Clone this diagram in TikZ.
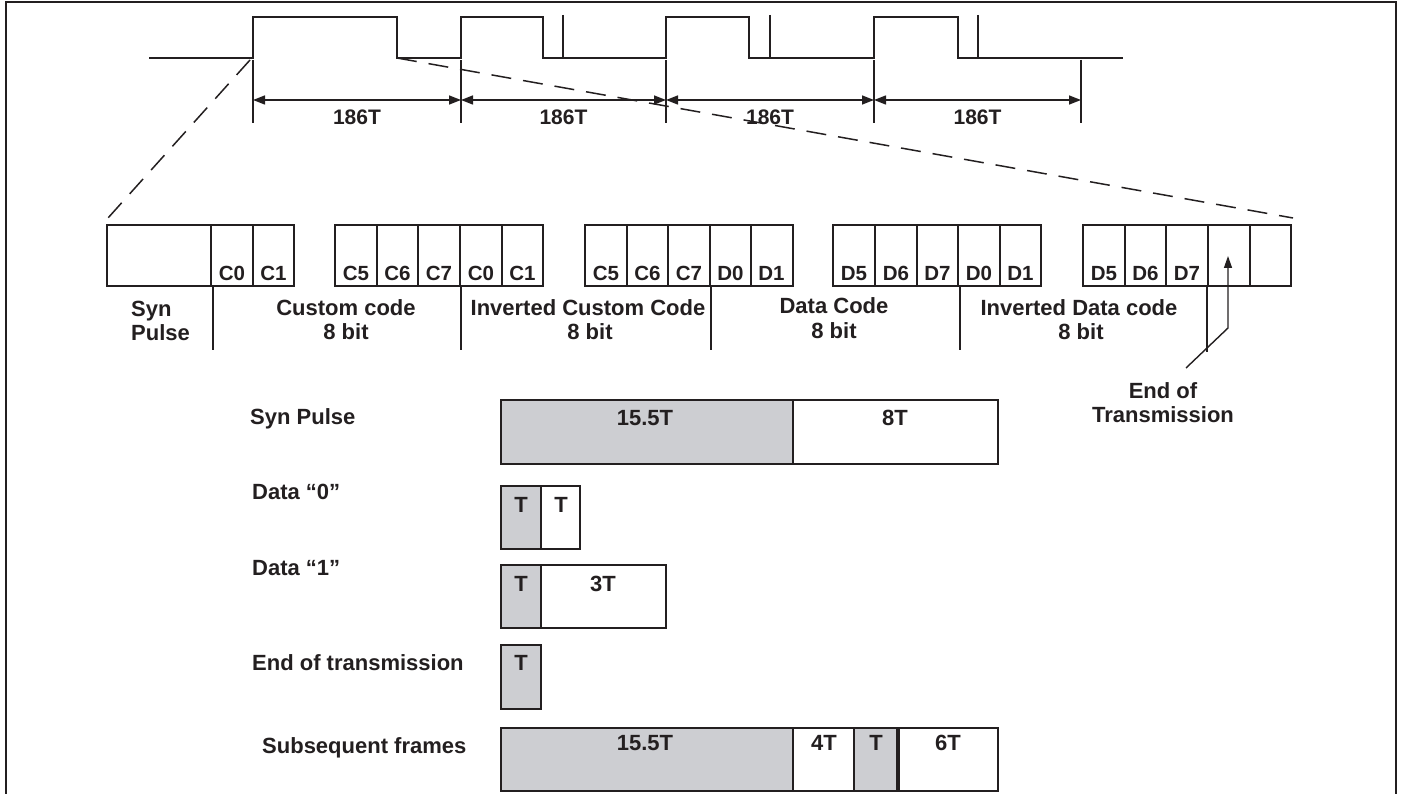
\documentclass[tikz,border=0pt]{standalone}
\usepackage{fontspec}
\setmainfont{Liberation Sans}
\usetikzlibrary{arrows.meta}
\definecolor{ink}{HTML}{231F20}
\definecolor{shade}{HTML}{CDCED2}
\begin{document}
\begin{tikzpicture}[x=1pt,y=-1pt,
  txt/.style={font=\fontsize{22}{25}\selectfont\bfseries, text=ink, inner sep=0pt, anchor=base},
  celltxt/.style={txt, font=\fontsize{20.5}{23}\selectfont\bfseries},
  dimtxt/.style={txt, font=\fontsize{21}{24}\selectfont\bfseries},
  wave/.style={line width=2.5pt, draw=ink, line join=miter},
  thinline/.style={line width=1.4pt, draw=ink},
  cellbox/.style={line width=1.8pt, draw=ink},
  dimarrow/.style={thinline, {Triangle[length=12pt,width=9pt]}-{Triangle[length=12pt,width=9pt]}},
  dashline/.style={line width=1.5pt, draw=ink, dash pattern=on 20pt off 12pt},
  barbox/.style={line width=1.8pt, draw=ink},
]
\useasboundingbox (0,0) rectangle (1403,794);
% frame
\draw[line width=2.4pt, ink] (6,794) -- (6,2) -- (1396,2) -- (1396,794);

% waveform
\draw[wave] (149,58) -- (253,58) -- (253,17) -- (397,17) -- (397,58) -- (461,58) -- (461,17) -- (543,17) -- (543,58)
  -- (666,58) -- (666,17) -- (749,17) -- (749,58) -- (874,58) -- (874,17) -- (958,17) -- (958,58) -- (1123,58);
\foreach \x in {563,770,978} \draw[thinline] (\x,15) -- (\x,58);

% dimension lines
\foreach \x in {253,461,666,874,1081} \coordinate (e\x) at (\x,100);
\foreach \x in {253,461,666,874,1081} \draw[thinline] (\x,60) -- (\x,123);
\draw[dimarrow] (e253) -- (e461);
\draw[dimarrow] (e461) -- (e666);
\draw[dimarrow] (e666) -- (e874);
\draw[dimarrow] (e874) -- (e1081);
\node[dimtxt] (d1) at (357,125) {186T};
\node[dimtxt] (d2) at (563.5,125) {186T};
\node[dimtxt] (d3) at (770,125) {186T};
\node[dimtxt] (d4) at (977.5,125) {186T};

% dashed zoom lines
\coordinate (za) at (250,60);
\coordinate (zb) at (108,218);
\coordinate (zc) at (397,58);
\coordinate (zd) at (1293,218);
\draw[dashline] (za) -- (zb);
\draw[dashline] (zc) -- (zd);

% bit cells
\foreach \a/\b in {107/211,211/253,253/294,
  335/377,377/418,418/460,460/502,502/543,
  585/627,627/668,668/710,710/751,751/793,
  833/875,875/917,917/958,958/1000,1000/1041,
  1083/1125,1125/1166,1166/1208,1208/1250,1250/1291}
  \draw[cellbox] (\a,225) rectangle (\b,286);
\foreach \x/\t/\n in {232/C0/a1,273.5/C1/a2,
  356/C5/b1,397.5/C6/b2,439/C7/b3,481/C0/b4,522.5/C1/b5,
  606/C5/c1,647.5/C6/c2,689/C7/c3,730.5/D0/c4,771.5/D1/c5,
  854/D5/f1,896/D6/f2,937.5/D7/f3,979/D0/f4,1020.5/D1/f5,
  1104/D5/g1,1145.5/D6/g2,1187/D7/g3}
  \node[celltxt] (\n) at (\x,281) {\t};

% group separators
\foreach \x in {213,461,711,960} \draw[thinline] (\x,287) -- (\x,350);
\draw[thinline] (1207,287) -- (1207,352);

% group labels
\node[txt, anchor=base west] (s1) at (131,317) {Syn};
\node[txt, anchor=base west] (s2) at (131,341) {Pulse};
\node[txt] (cc1) at (346,316) {Custom code};
\node[txt] (cc2) at (346,340) {8 bit};
\node[txt] (ic1) at (588,316) {Inverted Custom Code};
\node[txt] (ic2) at (590,340) {8 bit};
\node[txt] (dc1) at (834,314) {Data Code};
\node[txt] (dc2) at (834,338) {8 bit};
\node[txt] (id1) at (1079,316) {Inverted Data code};
\node[txt] (id2) at (1081,340) {8 bit};

% end of transmission pointer
\coordinate (p0) at (1186,368);
\coordinate (p1) at (1228,328);
\coordinate (p2) at (1228,256);
\draw[thinline, -{Triangle[length=12pt,width=8pt]}] (p0) -- (p1) -- (p2);
\node[txt] (eot1) at (1163,398) {End of};
\node[txt] (eot2) at (1163,422) {Transmission};

% lower legend
\node[txt, anchor=base west] (l1) at (250,424) {Syn Pulse};
\node[txt, anchor=base west] (l2) at (252,499) {Data “0”};
\node[txt, anchor=base west] (l3) at (252,575) {Data “1”};
\node[txt, anchor=base west] (l4) at (252,670) {End of transmission};
\node[txt, anchor=base west] (l5) at (262,753) {Subsequent frames};

% Syn pulse bar
\draw[barbox, fill=shade] (501,400) rectangle (793,464);
\draw[barbox] (793,400) rectangle (998,464);
\node[txt] (b1) at (645,425) {15.5T};
\node[txt] (b2) at (895,425) {8T};
% Data 0
\draw[barbox, fill=shade] (501,486) rectangle (541,549);
\draw[barbox] (541,486) rectangle (580,549);
\node[txt] (b3) at (521,512) {T};
\node[txt] (b4) at (561,512) {T};
% Data 1
\draw[barbox, fill=shade] (501,565) rectangle (541,628);
\draw[barbox] (541,565) rectangle (666,628);
\node[txt] (b5) at (521,591) {T};
\node[txt] (b6) at (603,591) {3T};
% End
\draw[barbox, fill=shade] (501,645) rectangle (541,709);
\node[txt] (b7) at (521,670) {T};
% Subsequent
\draw[barbox, fill=shade] (501,728) rectangle (793,791);
\draw[barbox] (793,728) rectangle (854,791);
\draw[barbox, fill=shade] (854,728) rectangle (897,791);
\draw[barbox] (899,728) rectangle (998,791);
\node[txt] (b8) at (645,750) {15.5T};
\node[txt] (b9) at (824,750) {4T};
\node[txt] (b10) at (876,750) {T};
\node[txt] (b11) at (948,750) {6T};
\end{tikzpicture}
\end{document}
